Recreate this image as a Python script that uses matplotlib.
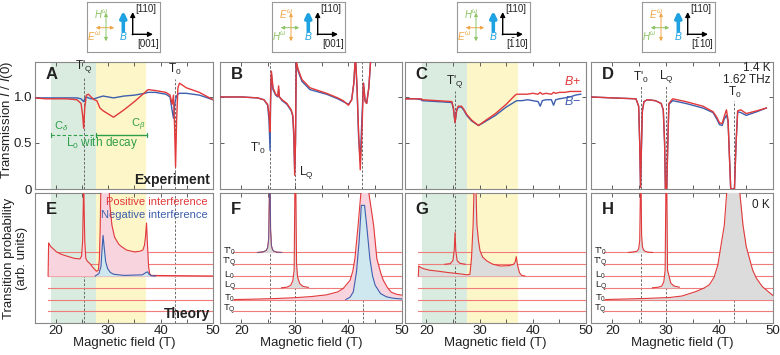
import matplotlib
matplotlib.use("Agg")
import matplotlib.pyplot as plt
import numpy as np

plt.rcParams['font.family'] = ['Liberation Sans', 'DejaVu Sans']
plt.rcParams['mathtext.fontset'] = 'custom'
plt.rcParams['mathtext.rm'] = 'Liberation Sans'
plt.rcParams['mathtext.it'] = 'Liberation Sans:italic'
plt.rcParams['mathtext.bf'] = 'Liberation Sans:bold'

# ---------------- data ----------------
# Experiment (transmission)
A_B = [16, 18, 20, 22, 24, 24.8, 25.1, 25.3, 25.5, 25.8, 26.2, 26.7, 27.3, 27.8, 28.4, 29.0, 31.0, 33.0, 35.0,
       37.0, 37.6, 39.0, 41.0, 41.8, 42.2, 42.45, 42.65, 42.85, 43.05, 43.3, 43.6, 44.9, 47.4, 50.0]
A_red = [0.99, 0.98, 0.98, 0.98, 0.97, 0.93, 0.80, 0.66, 0.88, 1.02, 1.03, 1.0, 0.97, 0.96, 0.88, 0.85, 0.78, 0.86,
         0.95, 1.05, 1.08, 1.07, 1.05, 1.02, 0.92, 1.02, 0.70, 0.24, 0.75, 1.10, 1.15, 1.10, 1.05, 0.97]
A_blue = [0.99, 0.99, 0.99, 0.99, 0.99, 0.98, 0.96, 0.95, 0.98, 1.0, 0.99, 0.98, 0.98, 0.99, 1.0, 1.01, 0.99, 1.01,
          1.02, 1.04, 1.05, 1.05, 1.03, 1.0, 0.85, 0.77, 0.90, 0.97, 1.01, 1.03, 1.04, 1.04, 1.02, 0.97]

B_B = [16, 20, 23, 24.2, 24.9, 25.15, 25.35, 25.45, 25.6, 25.9, 26.4, 26.8, 26.95, 27.1, 27.6, 28.5, 29.3, 29.6,
       29.8, 29.95, 30.1, 30.25, 30.6, 31.3, 32.8, 35.9, 38.0, 39.0, 40.0, 40.6, 41.0, 41.3, 41.6, 41.9, 42.2,
       42.5, 42.8, 43.1, 43.4, 43.8, 44.2, 44.6, 45.0]
B_red = [1.0, 1.0, 0.99, 0.97, 0.92, 0.82, 0.62, 1.0, 1.28, 1.1, 1.03, 1.01, 1.12, 1.0, 0.97, 0.93, 0.86, 0.8,
         0.6, 0.15, 0.5, 1.38, 1.3, 1.19, 1.10, 1.04, 0.99, 0.96, 0.91, 0.97, 1.15, 1.45, 1.1, 0.6, 0.21,
         0.6, 1.15, 0.95, 0.93, 1.1, 1.45, 1.5, 1.5]
B_blue = [1.0, 1.0, 0.99, 0.97, 0.91, 0.75, 0.42, 0.95, 1.25, 1.08, 1.02, 1.0, 1.08, 1.0, 0.96, 0.92, 0.85, 0.79,
          0.55, 0.2, 0.5, 1.38, 1.28, 1.17, 1.08, 1.03, 0.98, 0.95, 0.92, 0.97, 1.15, 1.45, 1.1, 0.55, 0.30,
          0.75, 1.15, 0.97, 0.93, 1.1, 1.45, 1.5, 1.5]

C_B = [16, 18, 19.1, 19.2, 22, 24.8, 25.1, 25.4, 25.7, 26.0, 26.6, 27.0, 27.6, 28.5, 29.8, 31, 33, 35, 36.7,
       37.0, 38, 39, 40, 41, 41.4, 41.8, 42.5, 43.5, 43.9, 44.3, 45, 46, 47, 48, 49]
C_red = [0.98, 0.98, 0.98, 0.97, 0.96, 0.95, 0.88, 0.72, 0.86, 0.90, 0.90, 0.87, 0.81, 0.75, 0.69, 0.74, 0.82,
         0.92, 1.02, 1.03, 1.03, 1.03, 1.04, 1.03, 1.05, 1.03, 1.04, 1.03, 1.05, 1.04, 1.05, 1.05, 1.06, 1.06, 1.06]
C_blue = [0.98, 0.98, 0.97, 0.96, 0.95, 0.94, 0.87, 0.72, 0.85, 0.89, 0.89, 0.86, 0.80, 0.74, 0.69, 0.73, 0.80,
          0.89, 0.95, 0.96, 0.96, 0.97, 0.96, 0.95, 0.90, 0.96, 0.97, 0.97, 0.91, 0.97, 0.98, 0.99, 1.0, 1.02, 1.03]

D_B = [16, 20, 24.4, 24.9, 25.1, 25.25, 25.4, 25.6, 25.9, 26.5, 28.0, 29.1, 29.5, 29.75, 29.9, 30.15, 30.35,
       30.55, 31.25, 33.7, 36.9, 38.8, 39.5, 40.0, 40.5, 40.9, 41.3, 41.6, 41.9, 42.1, 42.8, 43.1, 43.4, 44.0,
       45.0, 47.0, 48.75]
D_red = [1.0, 0.99, 0.98, 0.9, 0.5, 0.02, 0.4, 0.85, 0.95, 0.97, 0.96, 0.93, 0.86, 0.5, 0.0, 0.0, 0.5, 0.93,
         0.98, 0.95, 0.90, 0.84, 0.78, 0.72, 0.71, 0.79, 0.86, 0.75, 0.3, 0.0, 0.0, 0.5, 0.85, 0.86, 0.82, 0.85, 0.88]
D_blue = [1.0, 0.99, 0.98, 0.9, 0.5, 0.02, 0.4, 0.85, 0.95, 0.97, 0.96, 0.93, 0.86, 0.5, 0.0, 0.0, 0.5, 0.92,
          0.96, 0.93, 0.88, 0.83, 0.76, 0.70, 0.69, 0.76, 0.80, 0.74, 0.3, 0.0, 0.0, 0.5, 0.84, 0.83, 0.80, 0.84, 0.88]

# Theory: baselines (level index) and peaks (height above baseline)
levels = ["T$'_0$", "T$'_\\mathrm{Q}$", "L$_0$", "L$_\\mathrm{Q}$", "T$_0$", "T$_\\mathrm{Q}$"]
level_y = [6, 5, 4, 3, 2, 1]

E_pos_B = [18.5, 18.6, 18.75, 19.0, 19.5, 20.1, 21.0, 22.0, 23.5, 24.6, 24.9, 25.1, 25.3, 25.5, 25.7, 26.0, 26.5,
           27.1, 27.75, 28.1, 28.3, 28.45, 28.6, 29.4, 29.9, 30.1, 30.3, 30.7, 31.2, 32.0, 32.5, 33.5, 35.0, 36.0,
           36.6, 36.9, 37.1, 37.3, 37.5, 37.7, 37.9, 38.2, 50.0]
E_pos_h = [0.0, 2.8, 2.7, 2.5, 2.3, 2.05, 1.85, 1.7, 1.5, 1.45, 1.7, 3.0, 8.0, 3.0, 1.5, 1.25, 1.05, 0.7, 0.4,
           0.5, 1.5, 4.0, 8.0, 8.0, 8.0, 8.0, 6.0, 4.3, 3.3, 2.7, 2.5, 2.2, 2.05, 2.1, 2.2, 2.6, 3.3, 4.5, 2.5,
           0.8, 0.2, 0.05, 0.0]
E_neg_B = [27.5, 28.2, 28.6, 28.8, 29.0, 29.2, 29.5, 29.9, 30.4, 31.0, 33.0, 36.5, 37.2, 37.5, 37.8, 38.2, 39.0]
E_neg_h = [0.0, 0.2, 0.8, 2.2, 3.45, 2.5, 1.2, 0.6, 0.3, 0.15, 0.05, 0.1, 0.3, 0.35, 0.15, 0.02, 0.0]

pk25_B = [23.0, 24.0, 24.6, 24.9, 25.1, 25.25, 25.35, 25.45, 25.6, 25.8, 26.1, 26.6, 27.5]
F_pk25_h = [0.0, 0.05, 0.15, 0.4, 1.2, 6.0, 6.0, 2.0, 0.6, 0.25, 0.1, 0.03, 0.0]
pk30_B = [27.5, 28.5, 29.2, 29.6, 29.85, 30.0, 30.15, 30.3, 30.5, 30.9, 31.5, 32.5]
F_pk30_h = [0.0, 0.05, 0.2, 0.6, 1.5, 9.0, 9.0, 2.0, 0.9, 0.35, 0.12, 0.03]
F_T0pos_B = [18.7, 22, 26, 29.7, 33, 35.9, 38.0, 39.0, 40.3, 40.8, 41.2, 41.8, 42.5, 43.5, 44.7, 45.3, 46.0, 46.5,
             47.3, 48.0, 49.0, 50.0]
F_T0pos_h = [0.0, 0.03, 0.08, 0.15, 0.25, 0.4, 0.65, 0.93, 1.64, 2.4, 3.47, 6.3, 10, 10, 6.3, 3.47, 2.3, 1.64,
             1.0, 0.62, 0.45, 0.37]
F_T0neg_B = [39.5, 40.3, 40.9, 41.5, 42.0, 42.4, 43.0, 43.4, 44.0, 44.5, 45.0, 46.0, 47.1, 48.5, 50.0]
F_T0neg_h = [0.0, 0.2, 0.65, 2.34, 5.0, 8.0, 8.0, 6.3, 3.47, 2.0, 1.2, 0.5, 0.23, 0.1, 0.05]

G_pkQ_B = [23.5, 24.5, 25.0, 25.25, 25.4, 25.55, 25.8, 26.3, 27.3]
G_pkQ_h = [0.0, 0.05, 0.3, 1.2, 2.7, 1.1, 0.3, 0.08, 0.0]
G_L0_B = [18.5, 18.6, 18.75, 19.0, 19.5, 20.5, 22.0, 24.0, 25.0, 26.0, 27.0, 27.6, 28.2, 28.5, 28.8, 29.0, 29.3,
          29.5, 29.8, 30.1, 30.6, 31.4, 32.5, 33.9, 35.5, 36.4, 36.7, 36.9, 37.1, 37.5, 37.9, 38.5]
G_L0_h = [0.0, 0.85, 0.8, 0.72, 0.62, 0.5, 0.42, 0.3, 0.25, 0.2, 0.14, 0.1, 0.14, 1.56, 4.4, 8.0, 8.0, 4.4,
          3.0, 2.12, 1.6, 1.27, 1.0, 0.85, 0.88, 0.99, 1.2, 1.64, 1.0, 0.28, 0.06, 0.0]

H_pk25_h = [0.0, 0.05, 0.1, 0.3, 1.0, 6.0, 6.0, 1.5, 0.5, 0.23, 0.1, 0.03, 0.0]
H_pk30_h = [0.0, 0.04, 0.14, 0.5, 1.5, 9.0, 9.0, 1.5, 1.13, 0.4, 0.15, 0.05]
H_T0_B = [18.7, 22, 26, 30.6, 33, 35.6, 37.0, 38.1, 39.0, 39.7, 40.3, 40.9, 41.5, 42.6, 43.6, 44.4, 45.0, 45.6,
          46.2, 46.9, 48.0, 49.1, 50.0]
H_T0_h = [0.0, 0.04, 0.09, 0.17, 0.3, 0.68, 0.95, 1.25, 1.9, 2.95, 4.64, 6.3, 10, 10, 10, 6.3, 4.5, 3.5, 2.5,
          1.81, 1.1, 0.68, 0.34]

# ---------------- style ----------------
RED = '#e2393a'
BLUE = '#3d5fae'
BASE = '#ef7b7b'
PINK = '#f8d4de'
LBLUE = '#cfe8ef'
GRAY = '#dcdcdc'
GREENSH = '#d9ecdf'
YELLSH = '#fcf6c8'
DASH = '#555555'
TXT = '#222222'

fig = plt.figure(figsize=(7.8, 3.55), dpi=100)
W, H = 780.0, 355.0
lefts = [35, 220, 405, 591]
rights = [213, 402, 586, 773]
top_y0, top_y1 = 62, 189
bot_y0, bot_y1 = 193, 322.5


def add_ax(l, r, y0, y1):
    return fig.add_axes([l / W, (H - y1) / H, (r - l) / W, (y1 - y0) / H])


def style(ax):
    ax.tick_params(direction='in', top=True, right=True, length=3, width=0.6, labelsize=9.5, colors='#444444',
                   labelcolor=TXT, pad=2)
    for s in ax.spines.values():
        s.set_color('#888888')
        s.set_linewidth(0.8)
    ax.set_xlim(16, 50)
    ax.set_xticks([20, 25, 30, 35, 40, 45, 50])


tops, bots = [], []
for i in range(4):
    at = add_ax(lefts[i], rights[i], top_y0, top_y1)
    ab = add_ax(lefts[i], rights[i], bot_y0, bot_y1)
    for ax in (at, ab):
        style(ax)
    at.set_ylim(0, 1.38)
    at.set_yticks([0, 0.5, 1.0])
    at.set_xticklabels([])
    if i == 0:
        at.set_yticklabels(['0', '0.5', '1.0'], fontsize=9.5)
    else:
        at.set_yticklabels([])
    ab.set_ylim(0.05, 11.05)
    ab.set_yticks([])
    ab.set_xticklabels(['20', '', '30', '', '40', '', '50'], fontsize=9.5)
    ab.set_xlabel('Magnetic field (T)', fontsize=9.5, labelpad=0, color=TXT)
    tops.append(at)
    bots.append(ab)

# shading for A, C, E, G
for ax in (tops[0], tops[2], bots[0], bots[2]):
    ax.axvspan(19.1, 27.6, color=GREENSH, lw=0, zorder=0)
    ax.axvspan(27.6, 37.2, color=YELLSH, lw=0, zorder=0)


def vdash(ax, x, y0, y1):
    ax.plot([x, x], [y0, y1], ls=(0, (3, 2)), color=DASH, lw=0.6, zorder=1)


# ---- top row ----
ax = tops[0]
vdash(ax, 25.3, 0, 1.22); vdash(ax, 42.8, 0, 1.2)
ax.plot(A_B, A_blue, color=BLUE, lw=1.0, zorder=3)
ax.plot(A_B, A_red, color=RED, lw=1.0, zorder=4)
ax.text(25.3, 1.24, "T$'_\\mathrm{Q}$", ha='center', va='bottom', fontsize=8.5, color=TXT)
ax.text(42.8, 1.22, "T$_0$", ha='center', va='bottom', fontsize=8.5, color=TXT)
GC = '#2e9e4a'
ax.plot([19.1, 27.6], [0.59, 0.59], ls=(0, (3, 2)), color=GC, lw=0.8)
ax.plot([27.6, 37.3], [0.59, 0.59], color=GC, lw=1.0)
for xx in (19.1, 27.6, 37.3):
    ax.plot([xx, xx], [0.57, 0.61], color=GC, lw=0.8)
ax.text(19.6, 0.61, 'C$_\\delta$', color=GC, fontsize=8, ha='left', va='bottom')
ax.text(37.0, 0.61, 'C$_\\beta$', color=GC, fontsize=8, ha='right', va='bottom')
ax.text(22.0, 0.5, 'L$_0$ with decay', color=GC, fontsize=8.5, ha='left', va='center')
ax.text(49.5, 0.1, 'Experiment', fontsize=10, fontweight='bold', ha='right', va='center', color=TXT)

ax = tops[1]
for x in (25.3, 30.1, 42.6):
    vdash(ax, x, 0, 1.38)
ax.plot(B_B, B_blue, color=BLUE, lw=1.0, zorder=3)
ax.plot(B_B, B_red, color=RED, lw=1.0, zorder=4)
ax.text(24.6, 0.44, "T$'_0$", ha='right', va='center', fontsize=8.5, color=TXT)
ax.text(30.8, 0.18, "L$_\\mathrm{Q}$", ha='left', va='center', fontsize=8.5, color=TXT)

ax = tops[2]
vdash(ax, 25.4, 0, 1.07)
ax.plot(C_B, C_blue, color=BLUE, lw=1.0, zorder=3)
ax.plot(C_B, C_red, color=RED, lw=1.0, zorder=4)
ax.text(25.4, 1.08, "T$'_\\mathrm{Q}$", ha='center', va='bottom', fontsize=8.5, color=TXT)
ax.text(49.0, 1.17, '$B$+', color=RED, fontsize=9, ha='right', va='center')
ax.text(49.0, 0.95, '$B$\u2212', color=BLUE, fontsize=9, ha='right', va='center')

ax = tops[3]
vdash(ax, 25.3, 0, 1.12); vdash(ax, 30.1, 0, 1.12); vdash(ax, 42.8, 0, 0.96)
ax.plot(D_B, D_blue, color=BLUE, lw=1.0, zorder=3)
ax.plot(D_B, D_red, color=RED, lw=1.0, zorder=4)
ax.text(25.3, 1.13, "T$'_0$", ha='center', va='bottom', fontsize=8.5, color=TXT)
ax.text(30.1, 1.13, "L$_\\mathrm{Q}$", ha='center', va='bottom', fontsize=8.5, color=TXT)
ax.text(42.8, 0.97, "T$_0$", ha='center', va='bottom', fontsize=8.5, color=TXT)
ax.text(49.6, 1.25, '1.4 K\n1.62 THz', ha='right', va='center', fontsize=8.5, color=TXT, linespacing=1.0)

for ax, lab in zip(tops, 'ABCD'):
    ax.text(0.06, 0.9, lab, transform=ax.transAxes, fontsize=12, fontweight='bold', ha='left', va='center',
            color=TXT)


# ---- bottom row ----
def baselines(ax):
    for y in level_y:
        ax.plot([18.5, 50], [y, y], color=BASE, lw=0.8, zorder=2)


def peak(ax, xs, hs, base, fill, line=RED, z=3):
    ys = [base + h for h in hs]
    ax.fill_between(xs, base, ys, color=fill, lw=0, zorder=z)
    ax.plot(xs, ys, color=line, lw=0.8, zorder=z + 2)


ax = bots[0]
baselines(ax)
vdash(ax, 25.3, 0, 4.5); vdash(ax, 42.8, 0, 11.05)
peak(ax, E_pos_B, E_pos_h, 4, PINK, RED, 3)
peak(ax, E_neg_B, E_neg_h, 4, LBLUE, BLUE, 4)
ax.text(0.97, 0.93, 'Positive interference', color=RED, transform=ax.transAxes, ha='right', va='center',
        fontsize=8)
ax.text(0.97, 0.83, 'Negative interference', color=BLUE, transform=ax.transAxes, ha='right', va='center',
        fontsize=8)
ax.text(49.5, 0.75, 'Theory', fontsize=10, fontweight='bold', ha='right', va='center', color=TXT, zorder=10)

ax = bots[1]
baselines(ax)
vdash(ax, 25.3, 0, 6); vdash(ax, 30.1, 0, 3); vdash(ax, 42.7, 0, 2)
peak(ax, F_T0pos_B, F_T0pos_h, 2, PINK, RED, 3)
peak(ax, F_T0neg_B, F_T0neg_h, 2, LBLUE, BLUE, 4)
peak(ax, pk25_B, F_pk25_h, 6, GRAY, RED, 3)
ax.plot(pk25_B, [6 + h for h in F_pk25_h], color=BLUE, lw=0.5, zorder=6)
peak(ax, pk30_B, F_pk30_h, 3, GRAY, RED, 3)

ax = bots[2]
baselines(ax)
vdash(ax, 25.4, 0, 11.05)
peak(ax, G_pkQ_B, G_pkQ_h, 5, GRAY, RED, 3)
peak(ax, G_L0_B, G_L0_h, 4, GRAY, RED, 3)

ax = bots[3]
baselines(ax)
vdash(ax, 25.3, 0, 6); vdash(ax, 30.1, 0, 3); vdash(ax, 42.8, 0, 2)
peak(ax, pk25_B, H_pk25_h, 6, GRAY, RED, 3)
peak(ax, pk30_B, H_pk30_h, 3, GRAY, RED, 3)
peak(ax, H_T0_B, H_T0_h, 2, GRAY, RED, 3)
ax.text(49.4, 10.0, '0 K', ha='right', va='center', fontsize=8.5, color=TXT)

for ax in (bots[1], bots[3]):
    for y, lab in zip(level_y, levels):
        ax.text(17.8, y + 0.08, lab, ha='center', va='center', fontsize=6.8, color=TXT, zorder=10)

for ax, lab in zip(bots, 'EFGH'):
    ax.text(0.06, 0.87, lab, transform=ax.transAxes, fontsize=12, fontweight='bold', ha='left', va='center',
            color=TXT, zorder=10)

# y labels
fig.text(7.5 / W, (H - 120) / H, 'Transmission $I$ / $I$(0)', rotation=90, ha='center', va='center',
         fontsize=9.5, color=TXT)
fig.text(15.5 / W, (H - 258) / H, 'Transition probability\n(arb. units)', rotation=90, ha='center',
         va='center', fontsize=9.5, color=TXT, linespacing=1.15)

# ---- inset geometry boxes ----
ORANGE = '#f0a648'
LGREEN = '#8cc465'
SKY = '#1fa2e2'
box_lefts = [87, 272, 457, 642]
axis_x = ['[001]', '[001]', '[$\\bar{1}$10]', '[$\\bar{1}$10]']
e_horizontal = [True, False, True, False]
for bl, xl, eh in zip(box_lefts, axis_x, e_horizontal):
    ib = fig.add_axes([bl / W, (H - 52) / H, 73 / W, 50 / H])
    ib.set_xlim(0, 73)
    ib.set_ylim(50, 0)
    ib.set_xticks([]); ib.set_yticks([])
    for s in ib.spines.values():
        s.set_color('#999999'); s.set_linewidth(0.8)
    hcol = ORANGE if eh else LGREEN
    vcol = LGREEN if eh else ORANGE
    ib.annotate('', xy=(6, 25.7), xytext=(30, 25.7),
                arrowprops=dict(arrowstyle='<|-|>', color=hcol, lw=0.7, mutation_scale=5))
    ib.annotate('', xy=(19, 8), xytext=(19, 42),
                arrowprops=dict(arrowstyle='<|-|>', color=vcol, lw=0.7, mutation_scale=5))
    if eh:
        ib.text(14, 12, '$H^{\\omega}$', color=LGREEN, fontsize=7, ha='center', va='center')
        ib.text(7, 34, '$E^{\\omega}$', color=ORANGE, fontsize=7, ha='center', va='center')
    else:
        ib.text(14, 12, '$E^{\\omega}$', color=ORANGE, fontsize=7, ha='center', va='center')
        ib.text(7, 34, '$H^{\\omega}$', color=LGREEN, fontsize=7, ha='center', va='center')
    ib.annotate('', xy=(36.3, 9), xytext=(36.3, 29),
                arrowprops=dict(arrowstyle='-|>', color=SKY, lw=2.6, mutation_scale=9, shrinkA=0, shrinkB=0))
    ib.text(36.3, 34.5, '$B$', color=SKY, fontsize=7.5, ha='center', va='center')
    ib.annotate('', xy=(45.7, 10), xytext=(45.7, 32.8),
                arrowprops=dict(arrowstyle='-|>', color='black', lw=1.0, mutation_scale=7, shrinkA=0, shrinkB=0))
    ib.annotate('', xy=(66, 32.3), xytext=(45.2, 32.3),
                arrowprops=dict(arrowstyle='-|>', color='black', lw=1.0, mutation_scale=7, shrinkA=0, shrinkB=0))
    ib.text(48, 7, '[110]', fontsize=7, ha='left', va='center', color=TXT)
    ib.text(61, 42, xl, fontsize=7, ha='center', va='center', color=TXT)

fig.savefig('out.png', dpi=100)
